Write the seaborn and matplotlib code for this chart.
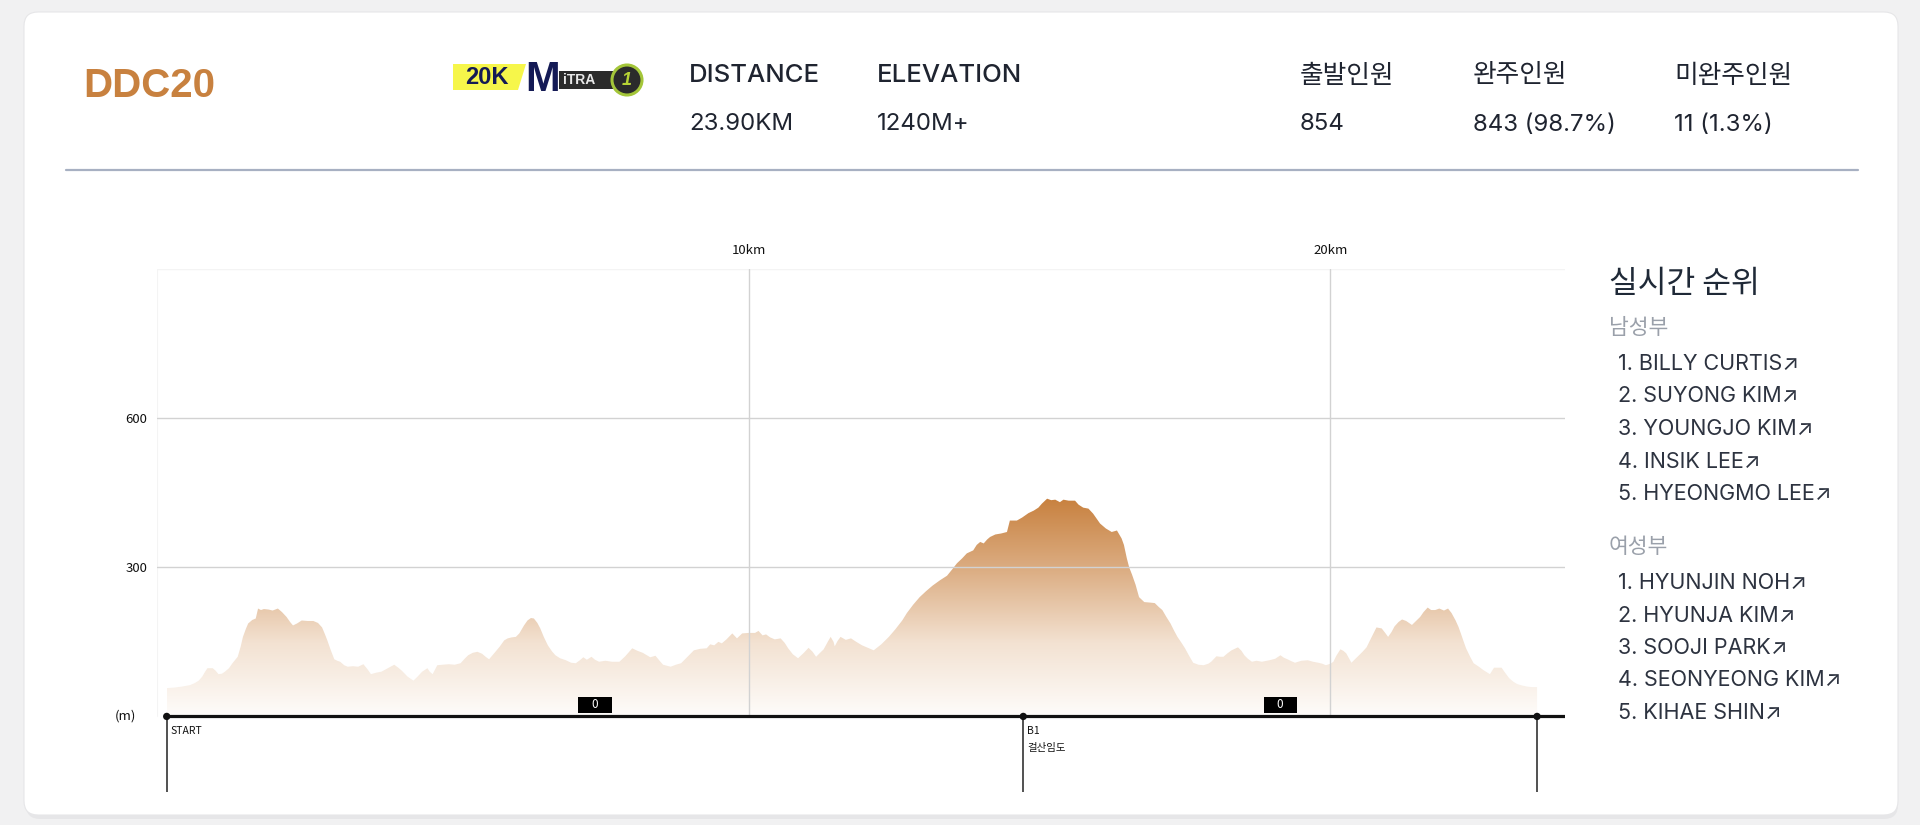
import numpy as np
import pandas as pd
import matplotlib
matplotlib.use("Agg")
import matplotlib.pyplot as plt
import seaborn as sns
from matplotlib.patches import FancyBboxPatch, Polygon, Rectangle, Circle
from matplotlib.colors import LinearSegmentedColormap

# ---- data ----
race_name = "DDC20"
stat_labels = ["DISTANCE", "ELEVATION", "출발인원", "완주인원", "미완주인원"]
stat_values = ["23.90KM", "1240M+", "854", "843 (98.7%)", "11 (1.3%)"]

km = [0.00, 0.13, 0.26, 0.40, 0.48, 0.55, 0.61, 0.66, 0.70, 0.79, 0.84, 0.89, 0.95, 1.00,
      1.07, 1.13, 1.22, 1.27, 1.31, 1.36, 1.40, 1.47, 1.53, 1.57, 1.62, 1.67, 1.75, 1.82,
      1.91, 1.98, 2.06, 2.12, 2.17, 2.24, 2.32, 2.42, 2.52, 2.60, 2.67, 2.72, 2.76, 2.82,
      2.88, 2.93, 2.98, 3.05, 3.11, 3.20, 3.29, 3.38, 3.45, 3.51, 3.60, 3.69, 3.80, 3.91,
      3.98, 4.04, 4.14, 4.24, 4.31, 4.39, 4.48, 4.52, 4.57, 4.65, 4.74, 4.85, 4.95, 5.05,
      5.12, 5.18, 5.26, 5.34, 5.42, 5.48, 5.54, 5.62, 5.72, 5.80, 5.86, 5.93, 6.00, 6.06,
      6.14, 6.20, 6.26, 6.31, 6.37, 6.42, 6.48, 6.55, 6.62, 6.68, 6.76, 6.86, 6.95, 7.03,
      7.10, 7.16, 7.22, 7.30, 7.36, 7.43, 7.54, 7.65, 7.78, 7.88, 8.00, 8.09, 8.18, 8.31,
      8.40, 8.47, 8.53, 8.66, 8.75, 8.84, 8.95, 9.06, 9.17, 9.28, 9.34, 9.41, 9.48, 9.54,
      9.62, 9.72, 9.80, 9.89, 10.00, 10.11, 10.17, 10.24, 10.30, 10.37, 10.45, 10.55,
      10.62, 10.68, 10.76, 10.85, 10.95, 11.03, 11.10, 11.16, 11.22, 11.29, 11.36, 11.41,
      11.46, 11.48, 11.53, 11.58, 11.67, 11.76, 11.85, 11.95, 12.05, 12.15, 12.28, 12.41,
      12.52, 12.64, 12.72, 12.83, 12.94, 13.05, 13.16, 13.29, 13.41, 13.50, 13.58, 13.67,
      13.75, 13.86, 13.92, 13.98, 14.04, 14.10, 14.15, 14.24, 14.34, 14.44, 14.49, 14.55,
      14.61, 14.70, 14.81, 14.90, 14.98, 15.04, 15.13, 15.20, 15.27, 15.35, 15.41, 15.50,
      15.61, 15.67, 15.75, 15.84, 15.92, 15.98, 16.04, 16.14, 16.24, 16.33, 16.41, 16.45,
      16.50, 16.54, 16.59, 16.65, 16.71, 16.80, 16.90, 16.98, 17.05, 17.11, 17.18, 17.25,
      17.31, 17.37, 17.44, 17.50, 17.57, 17.64, 17.73, 17.82, 17.90, 17.95, 18.04, 18.10,
      18.16, 18.23, 18.30, 18.41, 18.47, 18.52, 18.58, 18.65, 18.73, 18.82, 18.95, 19.05,
      19.14, 19.20, 19.26, 19.33, 19.39, 19.50, 19.61, 19.70, 19.79, 19.86, 19.92, 20.00,
      20.05, 20.10, 20.17, 20.22, 20.27, 20.36, 20.42, 20.49, 20.55, 20.62, 20.70, 20.79,
      20.88, 20.94, 20.99, 21.05, 21.10, 21.17, 21.23, 21.30, 21.40, 21.47, 21.54, 21.60,
      21.67, 21.73, 21.80, 21.87, 21.95, 22.02, 22.08, 22.15, 22.20, 22.24, 22.29, 22.33,
      22.40, 22.46, 22.55, 22.63, 22.74, 22.81, 22.94, 23.00, 23.07, 23.14, 23.21, 23.30,
      23.38, 23.46, 23.55]
elev = [57, 58, 60, 63, 67, 72, 80, 90, 97, 97, 92, 85, 86, 90,
        97, 107, 120, 140, 160, 176, 187, 194, 197, 217, 214, 216, 215, 213,
        217, 210, 200, 190, 183, 187, 193, 192, 192, 188, 179, 165, 153, 133,
        115, 112, 110, 103, 100, 101, 100, 105, 95, 85, 88, 90, 97, 104,
        98, 92, 80, 72, 80, 90, 97, 90, 85, 103, 104, 105, 104, 107,
        116, 123, 128, 130, 126, 120, 115, 126, 140, 153, 157, 159, 160, 167,
        183, 193, 198, 197, 188, 177, 160, 143, 131, 123, 117, 113, 108, 107,
        113, 119, 114, 120, 114, 110, 112, 110, 110, 121, 137, 132, 128, 119,
        122, 112, 104, 100, 104, 107, 120, 133, 136, 137, 145, 143, 150, 147,
        155, 167, 157, 167, 168, 168, 172, 163, 165, 159, 155, 157,
        148, 137, 125, 117, 128, 138, 130, 120, 127, 135, 150, 160,
        150, 141, 152, 160, 154, 157, 150, 143, 138, 133, 145, 160,
        175, 193, 208, 225, 240, 252, 263, 274, 283, 296, 308, 318,
        328, 334, 345, 351, 348, 356, 361, 366, 368, 371, 394, 394,
        394, 400, 409, 414, 420, 428, 438, 435, 436, 431, 436, 434,
        434, 426, 420, 418, 408, 398, 388, 378, 371, 374, 358, 345,
        318, 300, 285, 265, 240, 230, 229, 228, 220, 214, 200, 187,
        173, 160, 148, 137, 122, 108, 104, 103, 106, 110, 121, 120,
        120, 127, 133, 139, 132, 123, 116, 110, 112, 110, 113, 116,
        123, 118, 115, 111, 108, 112, 113, 110, 108, 106, 103, 106,
        110, 122, 135, 132, 127, 108, 115, 123, 130, 139, 158, 179,
        177, 168, 160, 170, 181, 190, 195, 192, 184, 192, 200, 210,
        219, 214, 214, 217, 213, 217, 208, 193, 180, 167, 150, 137,
        120, 107, 100, 93, 85, 98, 98, 88, 77, 70, 65, 62,
        60, 59, 59]

checkpoint_km = [0.0, 14.72, 23.55]
checkpoint_names = ["START", "B1\n걸산임도", ""]
section_counts = ["0", "0"]
km_ticks = [10, 20]
elev_ticks = [300, 600]

men_top5 = ["BILLY CURTIS", "SUYONG KIM", "YOUNGJO KIM", "INSIK LEE", "HYEONGMO LEE"]
women_top5 = ["HYUNJIN NOH", "HYUNJA KIM", "SOOJI PARK", "SEONYEONG KIM", "KIHAE SHIN"]

# ---- style ----
sns.set_theme(style="white")
plt.rcParams["font.family"] = ["Inter", "Noto Sans CJK KR", "DejaVu Sans"]
CJK = ["Noto Sans CJK KR", "DejaVu Sans"]
ORANGE = "#c8813f"
TXT = "#1f2430"

fig = plt.figure(figsize=(19.2, 8.25), dpi=100)
fig.patch.set_facecolor("#f1f1f2")

# background / page layer in pixel coordinates
bg = fig.add_axes([0, 0, 1, 1])
bg.set_xlim(0, 1920)
bg.set_ylim(825, 0)
bg.axis("off")
bg.add_patch(FancyBboxPatch((26, 16), 1872, 803, boxstyle="round,pad=0,rounding_size=14",
                            fc="#e2e2e4", ec="none", alpha=0.7))
bg.add_patch(FancyBboxPatch((24, 12), 1874, 803, boxstyle="round,pad=0,rounding_size=14",
                            fc="white", ec="#e6e6e8", lw=0.8))

# title + logo
bg.text(83, 86, race_name, color=ORANGE, fontsize=29, fontweight="bold",
        family=["Liberation Sans", "DejaVu Sans"], va="center", ha="left")
bg.add_patch(Polygon([(453, 64), (526, 64), (518, 90), (453, 90)], closed=True, fc="#f6f64a", ec="none"))
bg.text(487, 78, "20K", color="#141a55", fontsize=17, fontweight="heavy",
        family=["Liberation Sans", "DejaVu Sans"], ha="center", va="center")
bg.text(543, 80, "M", color="#141a55", fontsize=30, fontweight="heavy",
        family=["Liberation Sans", "DejaVu Sans"], ha="center", va="center")
bg.add_patch(Rectangle((559, 71), 60, 18, fc="#2b2b2b", ec="none"))
bg.text(579, 80.5, "iTRA", color="#e8e8e8", fontsize=10, fontweight="bold",
        family=["Liberation Sans", "DejaVu Sans"], ha="center", va="center")
bg.add_patch(Circle((627, 80), 15, fc="#2b2b2b", ec="#a4c639", lw=2.2))
bg.text(627, 80.5, "1", color="#b7d335", fontsize=13, fontweight="bold", style="italic",
        family=["Liberation Sans", "DejaVu Sans"], ha="center", va="center")

# header stats
stat_x = [689, 877, 1300, 1473, 1674]
for x, lab, val in zip(stat_x, stat_labels, stat_values):
    bg.text(x, 76, lab, color=TXT, fontsize=18.5, fontweight="medium", ha="left", va="center")
    bg.text(x, 124.5, val, color=TXT, fontsize=17.3, ha="left", va="center")
bg.plot([66, 1858], [170, 170], color="#a7b0c2", lw=1.6)

# ranking panel
bg.text(1609, 284, "실시간 순위", family=CJK, fontsize=22.5, fontweight="medium",
        color="#1f2937", ha="left", va="center")
bg.text(1609, 328, "남성부", family=CJK, fontsize=15.5, color="#9aa0aa", ha="left", va="center")
bg.text(1609, 547, "여성부", family=CJK, fontsize=15.5, color="#9aa0aa", ha="left", va="center")
for i, name in enumerate(men_top5):
    bg.text(1618, 364 + i * 32.5, f"{i + 1}. {name}\u2197", fontsize=15.5, color="#2d3340",
            ha="left", va="center")
for i, name in enumerate(women_top5):
    bg.text(1618, 583 + i * 32.5, f"{i + 1}. {name}\u2197", fontsize=15.5, color="#2d3340",
            ha="left", va="center")

# ---- elevation chart ----
x_min, x_max = -0.167, 24.03
y_min, y_max = -152, 900
ax = fig.add_axes([157 / 1920, 33 / 825, 1408 / 1920, 523 / 825])
ax.patch.set_alpha(0)

df = pd.DataFrame({"km": km, "elev": elev})

# gradient fill clipped by profile
verts = np.column_stack([np.r_[df.km.iloc[0], df.km, df.km.iloc[-1]],
                         np.r_[0, df.elev, 0]])
clip = Polygon(verts, closed=True, fc="none", ec="none")
ax.add_patch(clip)
cmap = LinearSegmentedColormap.from_list("elev", ["#fefcfa", "#f3e2d2", "#dcae84", ORANGE])
grad = np.linspace(0, 1, 256).reshape(-1, 1)
top = df.elev.max()
im = ax.imshow(grad, extent=[df.km.min(), df.km.max(), 0, top], origin="lower",
               aspect="auto", cmap=cmap, zorder=1)
im.set_clip_path(clip)

# grid
for v in elev_ticks:
    ax.plot([x_min, x_max], [v, v], color="#d2d2d2", lw=1, zorder=2)
for k in km_ticks:
    ax.plot([k, k], [0, y_max], color="#d2d2d2", lw=1, zorder=2)
ax.plot([x_min, x_max], [y_max, y_max], color="#f4f4f4", lw=1, zorder=0)
ax.plot([x_min, x_min], [0, y_max], color="#f4f4f4", lw=1.5, zorder=0)

# baseline and checkpoints
ax.plot([0, x_max], [0, 0], color="#111111", lw=2.3, zorder=4, solid_capstyle="butt")
for k in checkpoint_km:
    ax.plot([k, k], [0, y_min], color="#222222", lw=1.1, zorder=3)
cp = pd.DataFrame({"km": checkpoint_km, "elev": [0] * len(checkpoint_km)})
sns.scatterplot(data=cp, x="km", y="elev", color="#111111", s=28, edgecolor="none",
                zorder=5, ax=ax, legend=False)
for k, name in zip(checkpoint_km, checkpoint_names):
    if name:
        ax.annotate(name, (k, 0), xytext=(3, -7), textcoords="offset points",
                    fontsize=7.5, family=CJK, color="#111111", ha="left", va="top",
                    linespacing=1.9)

# section counts
for a, b, c in zip(checkpoint_km[:-1], checkpoint_km[1:], section_counts):
    mid = (a + b) / 2
    ax.add_patch(Rectangle((mid - 0.285, 7), 0.57, 32, fc="black", ec="none", zorder=5))
    ax.text(mid, 23, c, color="white", fontsize=8.5, family=CJK, ha="center",
            va="center", zorder=6)

ax.set_xlim(x_min, x_max)
ax.set_ylim(y_min, y_max)
ax.xaxis.tick_top()
ax.set_xticks(km_ticks)
ax.set_xticklabels([f"{k}km" for k in km_ticks], family=CJK, fontsize=9.5, color="#111111")
ax.set_yticks(elev_ticks)
ax.set_yticklabels([str(v) for v in elev_ticks], family=CJK, fontsize=9.5, color="#111111")
ax.tick_params(length=0, pad=7)
ax.tick_params(axis="x", pad=9)
ax.set_xlabel("")
ax.set_ylabel("")
for s in ax.spines.values():
    s.set_visible(False)
ax.annotate("(m)", (x_min, 0), xytext=(-15, 0), textcoords="offset points", family=CJK,
            fontsize=9.5, color="#111111", ha="right", va="center")

fig.savefig("out.png", dpi=100, facecolor=fig.get_facecolor())
